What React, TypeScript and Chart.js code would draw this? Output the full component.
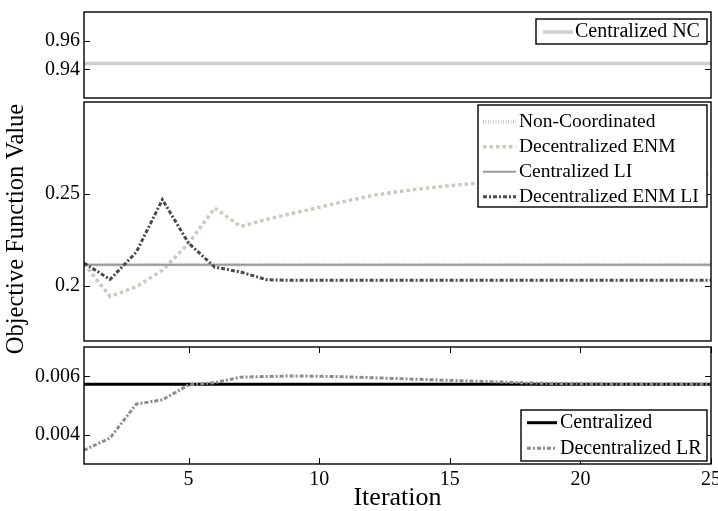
import React, { useEffect, useRef } from 'react';
import { Chart, registerables } from 'chart.js';

Chart.register(...registerables);

// ---------------- data ----------------
const iterations = [1, 2, 3, 4, 5, 6, 7, 8, 9, 10, 11, 12, 13, 14, 15, 16, 17, 18, 19, 20, 21, 22, 23, 24, 25];

// top panel
const centralizedNC = [0.944, 0.944, 0.944, 0.944, 0.944, 0.944, 0.944, 0.944, 0.944, 0.944, 0.944, 0.944, 0.944, 0.944, 0.944, 0.944, 0.944, 0.944, 0.944, 0.944, 0.944, 0.944, 0.944, 0.944, 0.944];

// middle panel
const nonCoordinated = [0.2115, 0.2115, 0.2115, 0.2115, 0.2115, 0.2115, 0.2115, 0.2115, 0.2115, 0.2115, 0.2115, 0.2115, 0.2115, 0.2115, 0.2115, 0.2115, 0.2115, 0.2115, 0.2115, 0.2115, 0.2115, 0.2115, 0.2115, 0.2115, 0.2115];
const decentralizedENM = [0.212, 0.1943, 0.1995, 0.2085, 0.223, 0.2423, 0.2323, 0.2362, 0.2395, 0.2427, 0.246, 0.249, 0.2512, 0.253, 0.2545, 0.2558, 0.2569, 0.2578, 0.2585, 0.2591, 0.2596, 0.26, 0.2603, 0.2605, 0.2607];
const centralizedLI = [0.2115, 0.2115, 0.2115, 0.2115, 0.2115, 0.2115, 0.2115, 0.2115, 0.2115, 0.2115, 0.2115, 0.2115, 0.2115, 0.2115, 0.2115, 0.2115, 0.2115, 0.2115, 0.2115, 0.2115, 0.2115, 0.2115, 0.2115, 0.2115, 0.2115];
const decentralizedENMLI = [0.2124, 0.2035, 0.2183, 0.2469, 0.2233, 0.2102, 0.2075, 0.2033, 0.203, 0.203, 0.203, 0.203, 0.203, 0.203, 0.203, 0.203, 0.203, 0.203, 0.203, 0.203, 0.203, 0.203, 0.203, 0.203, 0.203];

// bottom panel
const centralized = [0.00573, 0.00573, 0.00573, 0.00573, 0.00573, 0.00573, 0.00573, 0.00573, 0.00573, 0.00573, 0.00573, 0.00573, 0.00573, 0.00573, 0.00573, 0.00573, 0.00573, 0.00573, 0.00573, 0.00573, 0.00573, 0.00573, 0.00573, 0.00573, 0.00573];
const decentralizedLR = [0.00347, 0.00389, 0.00505, 0.00519, 0.0057, 0.00578, 0.00597, 0.00599, 0.00601, 0.006, 0.00598, 0.00595, 0.00592, 0.00589, 0.00586, 0.00583, 0.0058, 0.00577, 0.00575, 0.00574, 0.00573, 0.00573, 0.00573, 0.00573, 0.00573];

// ticks
const topTickValues = [0.94, 0.96];
const topTickLabels = ['0.94', '0.96'];
const midTickValues = [0.2, 0.25];
const midTickLabels = ['0.2', '0.25'];
const botTickValues = [0.004, 0.006];
const botTickLabels = ['0.004', '0.006'];
const xTickValues = [5, 10, 15, 20, 25];
const xTickLabels = ['5', '10', '15', '20', '25'];

const yAxisTitle = 'Objective Function Value';
const xAxisTitle = 'Iteration';

// ---------------- styling ----------------
const FONT = '"Liberation Serif", "Times New Roman", Times, serif';
const W = 718;
const H = 511;

const toPoints = (ys: number[]) => ys.map((y, i) => ({ x: iterations[i], y }));

const panelPlugin = {
  id: 'panel',
  afterDatasetsDraw(chart: any, _args: any, opts: any) {
    const { ctx, chartArea: a } = chart;
    ctx.save();
    ctx.strokeStyle = '#000';
    ctx.lineWidth = 1;
    ctx.setLineDash([]);
    const ys = chart.scales.y;
    ctx.beginPath();
    ys.ticks.forEach((t: any) => {
      const p = Math.round(ys.getPixelForValue(t.value)) + 0.5;
      ctx.moveTo(a.left, p);
      ctx.lineTo(a.left + 6, p);
      ctx.moveTo(a.right, p);
      ctx.lineTo(a.right - 6, p);
    });
    if (opts.xTicks) {
      const xs = chart.scales.x;
      xs.ticks.forEach((t: any) => {
        const p = Math.round(xs.getPixelForValue(t.value)) + 0.5;
        ctx.moveTo(p, a.top);
        ctx.lineTo(p, a.top + 6);
        ctx.moveTo(p, a.bottom);
        ctx.lineTo(p, a.bottom - 6);
      });
    }
    ctx.stroke();
    ctx.lineWidth = 1.4;
    ctx.strokeRect(a.left, a.top, a.right - a.left, a.bottom - a.top);

    const lg = opts.legend;
    if (lg) {
      ctx.fillStyle = '#fff';
      ctx.fillRect(lg.left, lg.top, lg.right - lg.left, lg.bottom - lg.top);
      ctx.lineWidth = 1.4;
      ctx.strokeStyle = '#000';
      ctx.strokeRect(lg.left, lg.top, lg.right - lg.left, lg.bottom - lg.top);
      chart.data.datasets.forEach((ds: any, i: number) => {
        const y = lg.rows[i];
        ctx.save();
        ctx.beginPath();
        ctx.strokeStyle = ds.borderColor;
        ctx.lineWidth = ds.borderWidth;
        ctx.setLineDash(ds.borderDash || []);
        ctx.moveTo(lg.sampleX0, y);
        ctx.lineTo(lg.sampleX1, y);
        ctx.stroke();
        ctx.restore();
        ctx.fillStyle = '#000';
        ctx.font = `${lg.fontSize}px ${FONT}`;
        ctx.textBaseline = 'middle';
        ctx.textAlign = 'left';
        ctx.fillText(ds.label, lg.textX, y);
      });
    }
    const yt = opts.yTitle;
    if (yt) {
      ctx.translate(yt.x, yt.y);
      ctx.rotate(-Math.PI / 2);
      ctx.fillStyle = '#000';
      ctx.font = `${yt.size}px ${FONT}`;
      ctx.textAlign = 'center';
      ctx.textBaseline = 'middle';
      ctx.fillText(yt.text, 0, 0);
    }
    ctx.restore();
  },
};

function yScale(min: number, max: number, values: number[], labels: string[]) {
  return {
    type: 'linear',
    min,
    max,
    grid: { display: false, drawTicks: false },
    border: { display: false },
    ticks: {
      color: '#000',
      font: { family: FONT, size: 20 },
      padding: 4,
      callback: (_v: any, i: number) => labels[i],
    },
    afterBuildTicks: (s: any) => {
      s.ticks = values.map((v) => ({ value: v }));
    },
    afterFit: (s: any) => {
      s.width = 84;
      s.paddingTop = 0;
      s.paddingBottom = 0;
    },
  };
}

const hiddenX = { type: 'linear', min: 1, max: 25, display: false };

function baseOptions(padding: any, scales: any, panel: any) {
  return {
    responsive: false,
    maintainAspectRatio: false,
    animation: false,
    events: [],
    layout: { padding },
    elements: { point: { radius: 0 }, line: { tension: 0 } },
    plugins: { legend: { display: false }, tooltip: { enabled: false }, panel },
    scales,
  };
}

export default function App() {
  const topRef = useRef<HTMLCanvasElement>(null);
  const midRef = useRef<HTMLCanvasElement>(null);
  const botRef = useRef<HTMLCanvasElement>(null);

  useEffect(() => {
    const charts: Chart[] = [];

    charts.push(
      new Chart(topRef.current!, {
        type: 'line',
        data: {
          datasets: [
            { label: 'Centralized NC', data: toPoints(centralizedNC), borderColor: '#cfcfcf', borderWidth: 3.5, borderDash: [] },
          ],
        } as any,
        options: baseOptions(
          { top: 12, bottom: H - 98, left: 0, right: 7 },
          { x: hiddenX, y: yScale(0.92, 0.98, topTickValues, topTickLabels) },
          {
            legend: { left: 536, top: 19, right: 707, bottom: 44, rows: [32], sampleX0: 543, sampleX1: 573, textX: 575, fontSize: 20 },
          }
        ) as any,
        plugins: [panelPlugin],
      })
    );

    charts.push(
      new Chart(midRef.current!, {
        type: 'line',
        data: {
          datasets: [
            { label: 'Non-Coordinated', data: toPoints(nonCoordinated), borderColor: '#cbcbcb', borderWidth: 4, borderDash: [1, 1.5], order: 4 },
            { label: 'Decentralized ENM', data: toPoints(decentralizedENM), borderColor: '#cdc9c1', borderWidth: 3.5, borderDash: [3.5, 3], order: 3 },
            { label: 'Centralized LI', data: toPoints(centralizedLI), borderColor: '#999999', borderWidth: 2, borderDash: [], order: 2 },
            { label: 'Decentralized ENM LI', data: toPoints(decentralizedENMLI), borderColor: '#4a4a4a', borderWidth: 3, borderDash: [4, 2, 2, 2], order: 1 },
          ],
        } as any,
        options: baseOptions(
          { top: 102, bottom: H - 341, left: 0, right: 7 },
          { x: hiddenX, y: yScale(0.17, 0.3, midTickValues, midTickLabels) },
          {
            legend: { left: 478, top: 105, right: 707, bottom: 207, rows: [121.7, 146.7, 171.7, 196.7], sampleX0: 483, sampleX1: 516, textX: 519, fontSize: 19.5 },
            yTitle: { text: yAxisTitle, x: 17, y: 229, size: 24.5 },
          }
        ) as any,
        plugins: [panelPlugin],
      })
    );

    charts.push(
      new Chart(botRef.current!, {
        type: 'line',
        data: {
          datasets: [
            { label: 'Centralized', data: toPoints(centralized), borderColor: '#000000', borderWidth: 3, borderDash: [], order: 2 },
            { label: 'Decentralized LR', data: toPoints(decentralizedLR), borderColor: '#8c8c8c', borderWidth: 3, borderDash: [4, 2, 2, 2], order: 1 },
          ],
        } as any,
        options: baseOptions(
          { top: 347, bottom: 0, left: 0, right: 7 },
          {
            x: {
              type: 'linear',
              min: 1,
              max: 25,
              grid: { display: false, drawTicks: false },
              border: { display: false },
              ticks: {
                color: '#000',
                font: { family: FONT, size: 20 },
                padding: 4,
                maxRotation: 0,
                autoSkip: false,
                callback: (_v: any, i: number) => xTickLabels[i],
              },
              afterBuildTicks: (s: any) => {
                s.ticks = xTickValues.map((v) => ({ value: v }));
              },
              title: {
                display: true,
                text: xAxisTitle,
                color: '#000',
                font: { family: FONT, size: 26, lineHeight: 1 },
                padding: { top: 0, bottom: 0 },
              },
              afterFit: (s: any) => {
                s.height = H - 464;
                s.paddingLeft = 0;
                s.paddingRight = 0;
              },
            },
            y: yScale(0.003, 0.007, botTickValues, botTickLabels),
          },
          {
            xTicks: true,
            legend: { left: 521, top: 410, right: 707, bottom: 461, rows: [422.7, 448.3], sampleX0: 527, sampleX1: 557, textX: 560, fontSize: 20 },
          }
        ) as any,
        plugins: [panelPlugin],
      })
    );

    return () => charts.forEach((c) => c.destroy());
  }, []);

  const cs: React.CSSProperties = { position: 'absolute', left: 0, top: 0, width: W, height: H };
  return (
    <div style={{ position: 'absolute', left: 0, top: 0, width: W, height: H, background: '#fff' }}>
      <canvas ref={topRef} width={W} height={H} style={cs} />
      <canvas ref={midRef} width={W} height={H} style={cs} />
      <canvas ref={botRef} width={W} height={H} style={cs} />
    </div>
  );
}
